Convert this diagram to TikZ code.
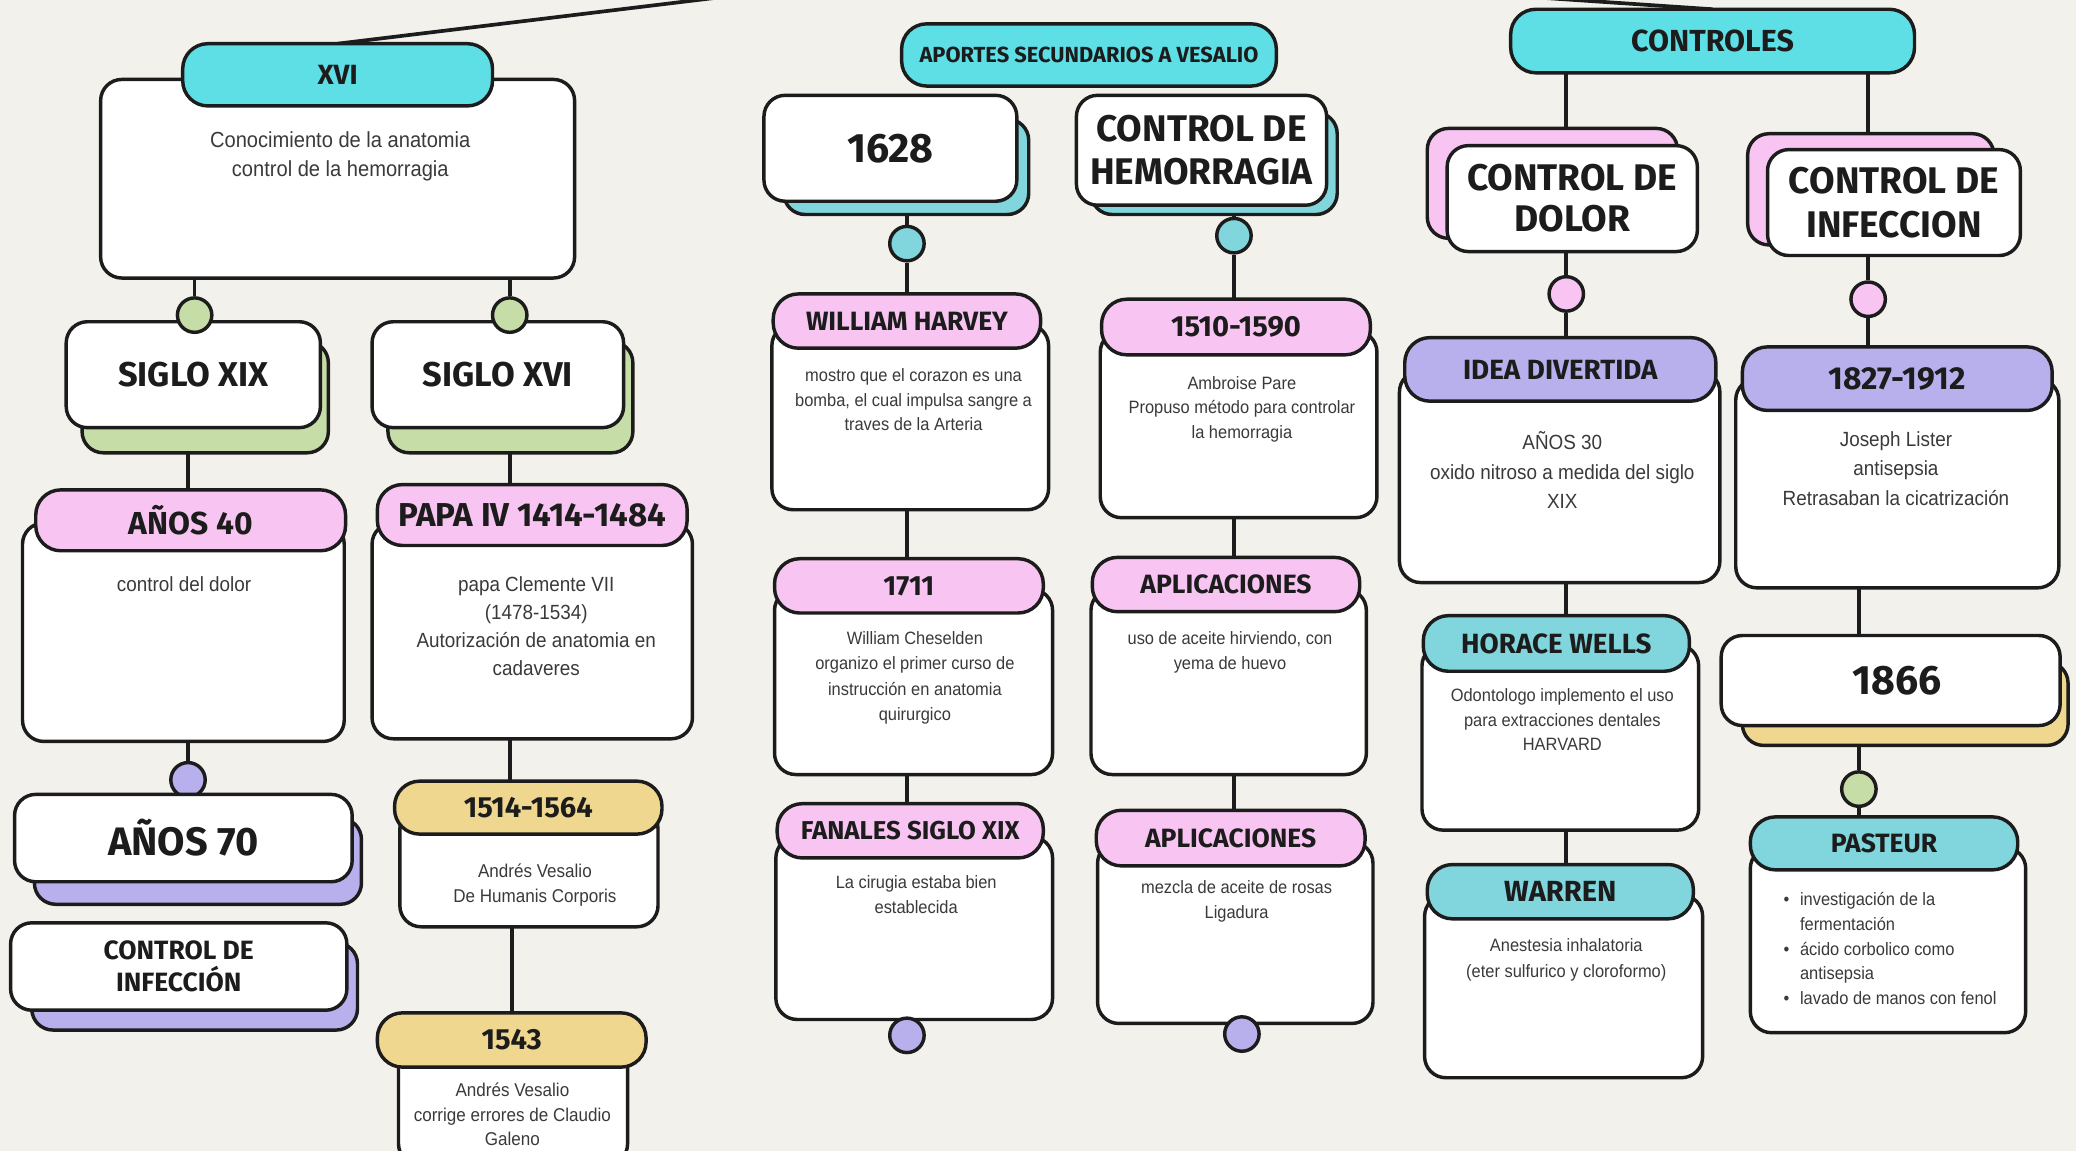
\documentclass[tikz,border=0pt]{standalone}
\usepackage{fontspec}
\setmainfont{Liberation Sans}
\newfontfamily\bodyf[FakeStretch=0.92]{Liberation Sans}
\newfontfamily\headf{Fira Sans}
\usetikzlibrary{calc}
\definecolor{bgc}{HTML}{F3F1EC}
\definecolor{cyanc}{HTML}{5EDFE6}
\definecolor{tealc}{HTML}{80D6DC}
\definecolor{pinkc}{HTML}{F8C4F2}
\definecolor{lavc}{HTML}{B8B0EC}
\definecolor{greenc}{HTML}{C6DDA8}
\definecolor{yelc}{HTML}{F0D78F}
\definecolor{inkc}{HTML}{1C1C1C}
\definecolor{txtc}{HTML}{3A3A3A}
\pgfdeclarelayer{back}
\pgfdeclarelayer{lines}
\pgfsetlayers{back,lines,main}
\newcommand\hd[2]{\headf\bfseries\fontsize{#1}{#2}\selectfont}
\newcommand\bd[2]{\bodyf\fontsize{#1}{#2}\selectfont}
% name, x1, y1, x2, y2, style, text
\newcommand\mkrect[7]{%
  \pgfmathsetmacro\rcx{(#2+#4)/2}\pgfmathsetmacro\rcy{(#3+#5)/2}%
  \pgfmathsetmacro\rw{#4-#2}\pgfmathsetmacro\rh{#5-#3}%
  \node[#6, minimum width=\rw pt, minimum height=\rh pt] (#1) at (\rcx,\rcy) {#7};}
\tikzset{
  shapebase/.style={draw=inkc, line width=2.6pt, rounded corners=16pt, inner sep=0pt, outer sep=0pt, align=center, text=inkc},
  whitebox/.style={shapebase, fill=white},
  shadowbox/.style={shapebase, fill=#1},
  pillbox/.style={shapebase, fill=#1, rounded corners=19pt},
  dot/.style={circle, draw=inkc, line width=2.6pt, minimum size=26pt, inner sep=0pt, fill=#1},
  conn/.style={draw=inkc, line width=2.8pt},
  bodytxt/.style={inner sep=0pt, align=center, text=txtc, anchor=north},
}
\begin{document}
\begin{tikzpicture}[x=1pt,y=-1pt]
\useasboundingbox (0,0) rectangle (1568,868.6);
\begin{pgfonlayer}{back}
  \fill[bgc] (-5,-5) rectangle (1573,874);
\end{pgfonlayer}

% ===== LEFT GROUP =====
\mkrect{xvibody}{76}{60}{434}{210}{whitebox}{}
\mkrect{xvi}{138}{33}{372}{80}{pillbox=cyanc, font={\hd{21}{24}}}{XVI}
\node[bodytxt, font={\bd{16.5}{22}}] (xvitxt) at (257,99) {Conocimiento de la anatomia\\control de la hemorragia};

\mkrect{sxixsh}{62}{258}{248}{342}{shadowbox=greenc}{}
\mkrect{sxix}{50}{243}{242}{323}{whitebox, font={\hd{26}{30}}}{SIGLO XIX}
\mkrect{sxvish}{293}{258}{478}{342}{shadowbox=greenc}{}
\mkrect{sxvi}{281}{243}{471}{323}{whitebox, font={\hd{26}{30}}}{SIGLO XVI}
\node[dot=greenc] (cg1) at (147,238) {};
\node[dot=greenc] (cg2) at (385,238) {};

\mkrect{a40body}{17}{395}{260}{560}{whitebox}{}
\mkrect{a40}{27}{370}{261}{416}{pillbox=pinkc, font={\hd{24}{28}}}{AÑOS 40}
\node[bodytxt, font={\bd{15.5}{21}}] (a40txt) at (139,435) {control del dolor};

\mkrect{papabody}{281}{395}{523}{558}{whitebox}{}
\mkrect{papa}{285}{366}{519}{412}{pillbox=pinkc, font={\hd{25}{28}}}{PAPA IV 1414-1484}
\node[bodytxt, font={\bd{15.5}{21.3}}] (papatxt) at (405,435) {papa Clemente VII\\(1478-1534)\\Autorización de anatomia en\\cadaveres};

\node[dot=lavc] (cl1) at (142,589) {};
\mkrect{a70sh}{26}{618}{273}{683}{shadowbox=lavc}{}
\mkrect{a70}{11}{600}{266}{666}{whitebox, font={\hd{30}{34}}}{AÑOS 70}
\mkrect{cinfsh}{24}{712}{270}{778}{shadowbox=lavc}{}
\mkrect{cinf}{8}{697}{262}{763}{whitebox, font={\hd{20}{24}}}{CONTROL DE\\INFECCIÓN}

\mkrect{v1body}{302}{610}{497}{700}{whitebox}{}
\mkrect{v1}{298}{590}{500}{630}{pillbox=yelc, font={\hd{22}{26}}}{1514-1564}
\node[bodytxt, font={\bd{14}{19}}] (v1txt) at (404,652) {Andrés Vesalio\\De Humanis Corporis};

\mkrect{v2body}{301}{790}{474}{880}{whitebox}{}
\mkrect{v2}{285}{765}{488}{806}{pillbox=yelc, font={\hd{22}{26}}}{1543}
\node[bodytxt, font={\bd{14}{18.5}}] (v2txt) at (387,818) {Andrés Vesalio\\corrige errores de Claudio\\Galeno};

% ===== MIDDLE GROUP =====
\mkrect{aportes}{681}{18}{964}{65}{pillbox=cyanc, font={\hd{16.5}{20}}}{APORTES SECUNDARIOS A VESALIO}
\mkrect{y1628sh}{592}{90}{777}{162}{shadowbox=tealc}{}
\mkrect{y1628}{577}{72}{768}{152}{whitebox, font={\hd{31}{34}}}{1628}
\mkrect{hemsh}{824}{85}{1010}{162}{shadowbox=tealc}{}
\mkrect{hem}{813}{72}{1002}{155}{whitebox, font={\hd{28}{33}}}{CONTROL DE\\HEMORRAGIA}
\node[dot=tealc] (ct1) at (685,184) {};
\node[dot=tealc] (ct2) at (932,178) {};

\mkrect{whbody}{583}{245}{792}{385}{whitebox}{}
\mkrect{wh}{584}{222}{786}{263}{pillbox=pinkc, font={\hd{20}{24}}}{WILLIAM HARVEY}
\node[bodytxt, font={\bd{13.5}{18.7}}] (whtxt) at (690,278) {mostro que el corazon es una\\bomba, el cual impulsa sangre a\\traves de la Arteria};

\mkrect{parebody}{831}{250}{1040}{391}{whitebox}{}
\mkrect{pare}{832}{226}{1035}{268}{pillbox=pinkc, font={\hd{22}{26}}}{1510-1590}
\node[bodytxt, font={\bd{13.5}{18.7}}] (paretxt) at (938,284) {Ambroise Pare\\Propuso método para controlar\\la hemorragia};

\mkrect{chesbody}{585}{445}{795}{585}{whitebox}{}
\mkrect{ches}{585}{422}{788}{463}{pillbox=pinkc, font={\hd{21}{24}}}{1711}
\node[bodytxt, font={\bd{13.5}{19}}] (chestxt) at (691,477) {William Cheselden\\organizo el primer curso de\\instrucción en anatomia\\quirurgico};

\mkrect{aplbody}{824}{445}{1032}{585}{whitebox}{}
\mkrect{apl}{825}{421}{1027}{462}{pillbox=pinkc, font={\hd{20}{24}}}{APLICACIONES}
\node[bodytxt, font={\bd{13.5}{19}}] (apltxt) at (929,477) {uso de aceite hirviendo, con\\yema de huevo};

\mkrect{fanbody}{586}{632}{795}{770}{whitebox}{}
\mkrect{fan}{587}{607}{788}{648}{pillbox=pinkc, font={\hd{19.5}{24}}}{FANALES SIGLO XIX}
\node[bodytxt, font={\bd{13.5}{19}}] (fantxt) at (692,661) {La cirugia estaba bien\\establecida};

\mkrect{aplbbody}{829}{636}{1037}{773}{whitebox}{}
\mkrect{aplb}{828}{612}{1031}{654}{pillbox=pinkc, font={\hd{20}{24}}}{APLICACIONES}
\node[bodytxt, font={\bd{13.5}{18.5}}] (aplbtxt) at (934,665) {mezcla de aceite de rosas\\Ligadura};

\node[dot=lavc] (cl2) at (685,782) {};
\node[dot=lavc] (cl3) at (938,781) {};

% ===== RIGHT GROUP =====
\mkrect{ctrl}{1141}{7}{1446}{55}{pillbox=cyanc, font={\hd{23}{26}}}{CONTROLES}
\mkrect{dolsh}{1078}{97}{1267}{180}{shadowbox=pinkc}{}
\mkrect{dol}{1093}{110}{1282}{190}{whitebox, font={\hd{28}{31}}}{CONTROL DE\\DOLOR}
\mkrect{infsh}{1320}{101}{1506}{185}{shadowbox=pinkc}{}
\mkrect{inf}{1335}{113}{1526}{193}{whitebox, font={\hd{28}{33}}}{CONTROL DE\\INFECCION}
\node[dot=pinkc] (cp1) at (1183,222) {};
\node[dot=pinkc] (cp2) at (1411,226) {};

\mkrect{ideabody}{1057}{280}{1299}{440}{whitebox}{}
\mkrect{idea}{1061}{255}{1296}{303}{pillbox=lavc, font={\hd{21}{24}}}{IDEA DIVERTIDA}
\node[bodytxt, font={\bd{15.5}{22}}] (ideatxt) at (1180,326) {AÑOS 30\\oxido nitroso a medida del siglo\\XIX};

\mkrect{listbody}{1311}{286}{1555}{444}{whitebox}{}
\mkrect{lister}{1316}{262}{1550}{310}{pillbox=lavc, font={\hd{24}{26}}}{1827-1912}
\node[bodytxt, font={\bd{15.5}{22}}] (listtxt) at (1432,326) {Joseph Lister\\antisepsia\\Retrasaban la cicatrización};

\mkrect{hwbody}{1074}{487}{1283}{627}{whitebox}{}
\mkrect{hw}{1075}{465}{1276}{507}{pillbox=tealc, font={\hd{21}{24}}}{HORACE WELLS}
\node[bodytxt, font={\bd{13.5}{18.5}}] (hwtxt) at (1180,520) {Odontologo implemento el uso\\para extracciones dentales\\HARVARD};

\mkrect{warbody}{1076}{676}{1286}{814}{whitebox}{}
\mkrect{war}{1078}{653}{1279}{694}{pillbox=tealc, font={\hd{22}{24}}}{WARREN}
\node[bodytxt, font={\bd{13.5}{19}}] (wartxt) at (1183,709) {Anestesia inhalatoria\\(eter sulfurico y cloroformo)};

\mkrect{y1866sh}{1316}{500}{1562}{563}{shadowbox=yelc}{}
\mkrect{y1866}{1300}{480}{1556}{548}{whitebox, font={\hd{31}{34}}}{\hspace*{10pt}1866}
\node[dot=greenc] (cg3) at (1404,596) {};

\mkrect{pasbody}{1322}{640}{1530}{780}{whitebox}{}
\mkrect{pas}{1322}{617}{1524}{657}{pillbox=tealc, font={\hd{20}{24}}}{PASTEUR}
\node[inner sep=0pt, anchor=north west, text=txtc, font={\bd{13.5}{18.6}}] (pastxt) at (1347,671)
  {\begin{tabular}{@{}l@{\hspace{8pt}}l@{}}\textbullet & investigación de la\\ & fermentación\\ \textbullet & ácido corbolico como\\ & antisepsia\\ \textbullet & lavado de manos con fenol\end{tabular}};

% ===== CONNECTORS =====
\coordinate (tlend) at (560,-4);
\coordinate (trend) at (1130,-4);
\begin{pgfonlayer}{lines}
  \draw[conn] (xvi.north) -- (tlend);
  \draw[conn] (ctrl.north) -- (trend);
  \draw[conn] (cg1) -- (cg1 |- xvibody.south);
  \draw[conn] (cg2) -- (cg2 |- xvibody.south);
  \draw[conn] (sxixsh.south -| cl1) -- (a40.north -| cl1);
  \draw[conn] (sxvish.south -| cg2) -- (papa.north -| cg2);
  \draw[conn] (cl1) -- (cl1 |- a40body.south);
  \draw[conn] (papabody.south -| cg2) -- (v1.north -| cg2);
  \draw[conn] (v2.north) -- (v2.north |- v1body.south);
  % middle
  \draw[conn] (ct1 |- y1628sh.south) -- (ct1) -- (ct1 |- wh.north);
  \draw[conn] (ct2 |- hemsh.south) -- (ct2) -- (ct2 |- pare.north);
  \draw[conn] (whbody.south -| ct1) -- (ches.north -| ct1);
  \draw[conn] (parebody.south -| ct2) -- (apl.north -| ct2);
  \draw[conn] (chesbody.south -| ct1) -- (fan.north -| ct1);
  \draw[conn] (aplbody.south -| ct2) -- (aplb.north -| ct2);
  % right
  \draw[conn] (ctrl.south -| cp1) -- (dolsh.north -| cp1);
  \draw[conn] (ctrl.south -| cp2) -- (infsh.north -| cp2);
  \draw[conn] (dol.south -| cp1) -- (cp1) -- (idea.north -| cp1);
  \draw[conn] (inf.south -| cp2) -- (cp2) -- (lister.north -| cp2);
  \draw[conn] (ideabody.south -| cp1) -- (hw.north -| cp1);
  \draw[conn] (hwbody.south -| cp1) -- (war.north -| cp1);
  \draw[conn] (listbody.south -| cg3) -- (y1866.north -| cg3);
  \draw[conn] (y1866sh.south -| cg3) -- (cg3) -- (pas.north -| cg3);
\end{pgfonlayer}
\end{tikzpicture}
\end{document}
